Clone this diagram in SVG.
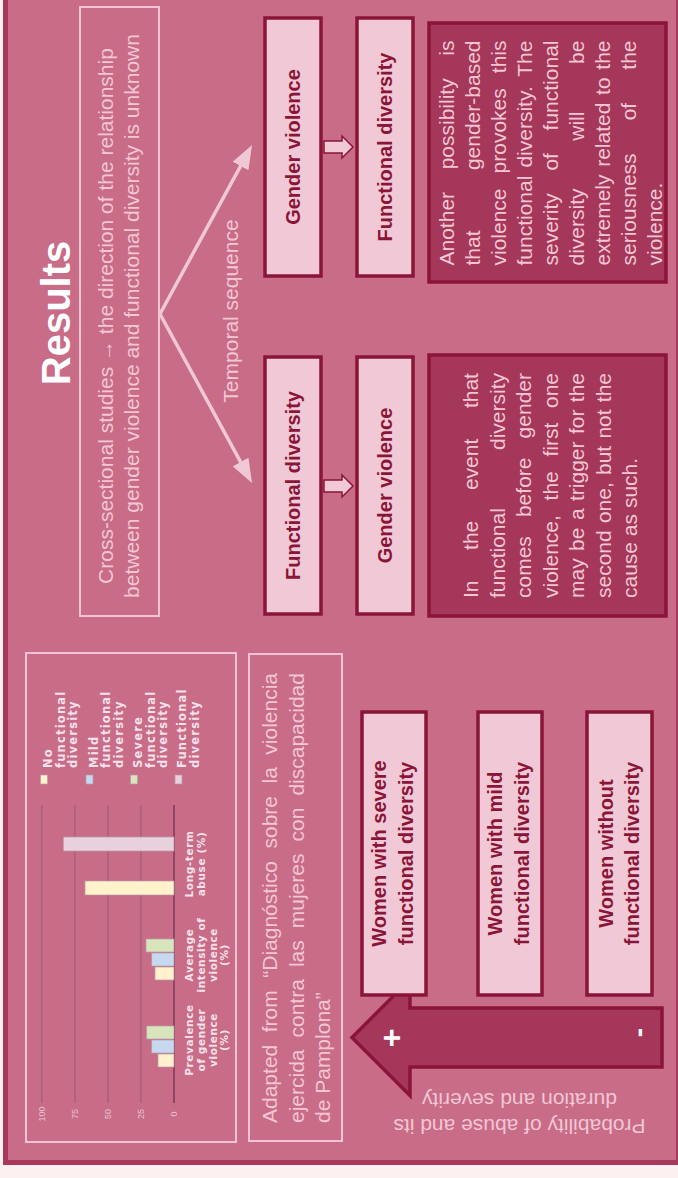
<svg xmlns="http://www.w3.org/2000/svg" width="678" height="1178" viewBox="0 0 678 1178">
<style>
text{font-family:"Liberation Sans",Arial,sans-serif}
.lt{fill:#F2C6D3;font-size:21px}
.nb{fill:#F1C9D6;stroke:#8B1538;stroke-width:3.5}
.nt{fill:#8B1538;font-size:20px;font-weight:bold;text-anchor:middle}
.tb{fill:#A5375A;stroke:#8B1538;stroke-width:3.5}
.ob{fill:none;stroke:#F0C4D2;stroke-width:2}
.ha{fill:#F1C9D6;stroke:#8B1538;stroke-width:1.5}
.va{fill:none;stroke:#F0C8D5;stroke-width:3.5}
.grid{stroke:#A15F7A;stroke-width:1.3}
.ax{fill:#E6C6D2;font-size:9px;text-anchor:middle}
.cl{font-family:"DejaVu Sans",Verdana,sans-serif;fill:#F6E2EA;font-size:10.5px;font-weight:bold;letter-spacing:0.6px;text-anchor:middle}
.lg{font-family:"DejaVu Sans",Verdana,sans-serif;fill:#F6E2EA;font-size:11.5px;font-weight:bold;letter-spacing:1.2px}
.bar{stroke:#B89AA6;stroke-width:0.7}
</style>
<defs>
<marker id="ah" markerUnits="userSpaceOnUse" markerWidth="26" markerHeight="20" refX="6" refY="9" orient="auto" viewBox="0 0 26 20">
<path d="M0,0 L24,9 L0,18 Z" fill="#F0C8D5"/>
</marker>
</defs>
<rect x="0" y="0" width="678" height="1178" fill="#FDF0F0"/>
<rect x="3" y="0" width="675" height="1165" fill="#A8385C"/>
<rect x="8" y="0" width="668" height="1160" fill="#C86C88"/>

<g id="title">
<text transform="translate(70 313) rotate(-90)" text-anchor="middle" font-size="40" font-weight="bold" fill="#FFFFFF">Results</text>
</g>

<g id="cross-sectional">
<rect class="ob" x="80" y="7" width="79" height="609"/>
<text class="lt" transform="translate(112.5 316) rotate(-90)" text-anchor="middle">Cross-sectional studies → the direction of the relationship</text>
<text class="lt" transform="translate(138.5 316) rotate(-90)" text-anchor="middle">between gender violence and functional diversity is unknown</text>
</g>

<g id="connectors">
<path class="va" d="M160,314 L243.4,160.8" marker-end="url(#ah)"/>
<path class="va" d="M160,314 L243.4,467.2" marker-end="url(#ah)"/>
<polygon class="ha" points="324,480 342,480 342,475 353,486 342,497 342,492 324,492"/>
<polygon class="ha" points="324,141 342,141 342,136 353,147 342,158 342,153 324,153"/>
<polygon fill="#A5375A" stroke="#8B1538" stroke-width="3.5" points="352,1037.5 410,979.5 410,1008 662,1008 662,1067 410,1067 410,1095.5"/>
</g>

<g id="temporal-label">
<text class="lt" transform="translate(238 311) rotate(-90)" text-anchor="middle">Temporal sequence</text>
</g>

<g id="fd-first">
<rect class="nb" x="265" y="357" width="56" height="257"/>
<text class="nt" transform="translate(300 485.5) rotate(-90)">Functional diversity</text>
</g>
<g id="gv-second">
<rect class="nb" x="357" y="357" width="56" height="257"/>
<text class="nt" transform="translate(392 485.5) rotate(-90)">Gender violence</text>
</g>
<g id="gv-first">
<rect class="nb" x="265" y="18" width="56" height="258"/>
<text class="nt" transform="translate(300 147) rotate(-90)">Gender violence</text>
</g>
<g id="fd-second">
<rect class="nb" x="357" y="18" width="56" height="258"/>
<text class="nt" transform="translate(392 147) rotate(-90)">Functional diversity</text>
</g>

<g id="text-lower">
<rect class="tb" x="429" y="355" width="237" height="261"/>
<text class="lt" transform="translate(478 598) rotate(-90)"><tspan x="0">In</tspan><tspan x="48.1">the</tspan><tspan x="107.9">event</tspan><tspan x="189.9">that</tspan></text>
<text class="lt" transform="translate(504.5 598) rotate(-90)"><tspan x="0">functional</tspan><tspan x="148">diversity</tspan></text>
<text class="lt" transform="translate(531 598) rotate(-90)"><tspan x="0">comes</tspan><tspan x="80.95">before</tspan><tspan x="159.6">gender</tspan></text>
<text class="lt" transform="translate(557.5 598) rotate(-90)"><tspan x="0">violence,</tspan><tspan x="97.6">the</tspan><tspan x="141.5">first</tspan><tspan x="190">one</tspan></text>
<text class="lt" transform="translate(584 598) rotate(-90)"><tspan x="0">may</tspan><tspan x="47.1">be</tspan><tspan x="77.9">a</tspan><tspan x="97">trigger</tspan><tspan x="163.9">for</tspan><tspan x="195.8">the</tspan></text>
<text class="lt" transform="translate(610.5 598) rotate(-90)"><tspan x="0">second</tspan><tspan x="74.9">one,</tspan><tspan x="123">but</tspan><tspan x="159.4">not</tspan><tspan x="195.8">the</tspan></text>
<text class="lt" transform="translate(637 598) rotate(-90)">cause as such.</text>
</g>

<g id="text-upper">
<rect class="tb" x="429" y="23" width="237" height="259"/>
<text class="lt" transform="translate(453.5 265.5) rotate(-90)"><tspan x="0">Another</tspan><tspan x="96.15">possibility</tspan><tspan x="209.8">is</tspan></text>
<text class="lt" transform="translate(479.5 265.5) rotate(-90)"><tspan x="0">that</tspan><tspan x="95.4">gender-based</tspan></text>
<text class="lt" transform="translate(505.5 265.5) rotate(-90)"><tspan x="0">violence</tspan><tspan x="92.1">provokes</tspan><tspan x="192.3">this</tspan></text>
<text class="lt" transform="translate(531.5 265.5) rotate(-90)"><tspan x="0">functional</tspan><tspan x="97.95">diversity.</tspan><tspan x="188.8">The</tspan></text>
<text class="lt" transform="translate(557.5 265.5) rotate(-90)"><tspan x="0">severity</tspan><tspan x="94.95">of</tspan><tspan x="135.1">functional</tspan></text>
<text class="lt" transform="translate(583.5 265.5) rotate(-90)"><tspan x="0">diversity</tspan><tspan x="124.75">will</tspan><tspan x="201.6">be</tspan></text>
<text class="lt" transform="translate(609.5 265.5) rotate(-90)"><tspan x="0">extremely</tspan><tspan x="98.7">related</tspan><tspan x="170.6">to</tspan><tspan x="195.8">the</tspan></text>
<text class="lt" transform="translate(635.5 265.5) rotate(-90)"><tspan x="0">seriousness</tspan><tspan x="145.15">of</tspan><tspan x="195.8">the</tspan></text>
<text class="lt" transform="translate(661.5 265.5) rotate(-90)">violence.</text>
</g>

<g id="chart">
<rect class="ob" x="26" y="653" width="210" height="489"/>
<line class="grid" x1="41.8" y1="805" x2="41.8" y2="1103"/>
<line class="grid" x1="74.9" y1="805" x2="74.9" y2="1103"/>
<line class="grid" x1="108" y1="805" x2="108" y2="1103"/>
<line class="grid" x1="141" y1="805" x2="141" y2="1103"/>
<line stroke="#7E3A57" stroke-width="1.5" x1="174" y1="805" x2="174" y2="1103"/>
<text class="ax" transform="translate(45 1114) rotate(-90)">100</text>
<text class="ax" transform="translate(78 1114) rotate(-90)">75</text>
<text class="ax" transform="translate(111 1114) rotate(-90)">50</text>
<text class="ax" transform="translate(144 1114) rotate(-90)">25</text>
<text class="ax" transform="translate(177 1114) rotate(-90)">0</text>
<rect class="bar" x="158" y="1054" width="16" height="13" fill="#FFF2CC"/>
<rect class="bar" x="151.7" y="1040" width="22.3" height="13" fill="#C6D9F1"/>
<rect class="bar" x="146.7" y="1026" width="27.3" height="13" fill="#D8E4BC"/>
<rect class="bar" x="155" y="967" width="19" height="13" fill="#FFF2CC"/>
<rect class="bar" x="151.7" y="953" width="22.3" height="13" fill="#C6D9F1"/>
<rect class="bar" x="146" y="939" width="28" height="13" fill="#D8E4BC"/>
<rect class="bar" x="85" y="881" width="89" height="14" fill="#FFF2CC"/>
<rect class="bar" x="63.3" y="837" width="110.7" height="14" fill="#E8D0DC"/>
<text class="cl" transform="translate(193 1040) rotate(-90)">Prevalence</text>
<text class="cl" transform="translate(205 1040) rotate(-90)">of gender</text>
<text class="cl" transform="translate(216.5 1040) rotate(-90)">violence</text>
<text class="cl" transform="translate(228 1040) rotate(-90)">(%)</text>
<text class="cl" transform="translate(193 955) rotate(-90)">Average</text>
<text class="cl" transform="translate(205 955) rotate(-90)">intensity of</text>
<text class="cl" transform="translate(216.5 955) rotate(-90)">violence</text>
<text class="cl" transform="translate(228 955) rotate(-90)">(%)</text>
<text class="cl" transform="translate(193 864) rotate(-90)">Long-term</text>
<text class="cl" transform="translate(205 864) rotate(-90)">abuse (%)</text>
<rect class="bar" x="40.5" y="775" width="7" height="9" fill="#FFF2CC"/>
<rect class="bar" x="86" y="775" width="7" height="9" fill="#C6D9F1"/>
<rect class="bar" x="130.5" y="775" width="7" height="9" fill="#D8E4BC"/>
<rect class="bar" x="175" y="775" width="7" height="9" fill="#E8D0DC"/>
<text class="lg" transform="translate(52 768) rotate(-90)">No</text>
<text class="lg" transform="translate(64.5 768) rotate(-90)">functional</text>
<text class="lg" transform="translate(77 768) rotate(-90)">diversity</text>
<text class="lg" transform="translate(97.5 768) rotate(-90)">Mild</text>
<text class="lg" transform="translate(110 768) rotate(-90)">functional</text>
<text class="lg" transform="translate(122.5 768) rotate(-90)">diversity</text>
<text class="lg" transform="translate(142 768) rotate(-90)">Severe</text>
<text class="lg" transform="translate(154.5 768) rotate(-90)">functional</text>
<text class="lg" transform="translate(167 768) rotate(-90)">diversity</text>
<text class="lg" transform="translate(186 768) rotate(-90)">Functional</text>
<text class="lg" transform="translate(198.5 768) rotate(-90)">diversity</text>
</g>

<g id="source">
<rect class="ob" x="249" y="654" width="93" height="487"/>
<text class="lt" transform="translate(277 1123) rotate(-90)"><tspan x="0">Adapted</tspan><tspan x="90.72">from</tspan><tspan x="145.24">“Diagnóstico</tspan><tspan x="274.46">sobre</tspan><tspan x="339.48">la</tspan><tspan x="368.3">violencia</tspan></text>
<text class="lt" transform="translate(303.5 1123) rotate(-90)"><tspan x="0">ejercida</tspan><tspan x="85.52">contra</tspan><tspan x="155.94">las</tspan><tspan x="194.76">mujeres</tspan><tspan x="281.48">con</tspan><tspan x="327.4">discapacidad</tspan></text>
<text class="lt" transform="translate(330 1123) rotate(-90)">de Pamplona”</text>
</g>

<g id="scale-signs">
<text transform="translate(402 1038) rotate(-90)" text-anchor="middle" font-size="32" font-weight="bold" fill="#FFFFFF">+</text>
<text transform="translate(648 1032.5) rotate(-90)" text-anchor="middle" font-size="28" font-weight="bold" fill="#FFFFFF">-</text>
</g>

<g id="women-severe">
<rect class="nb" x="362" y="712" width="64" height="283"/>
<text class="nt" transform="translate(386 853.5) rotate(-90)">Women with severe</text>
<text class="nt" transform="translate(412.5 853.5) rotate(-90)">functional diversity</text>
</g>
<g id="women-mild">
<rect class="nb" x="478" y="712" width="64" height="283"/>
<text class="nt" transform="translate(502 853.5) rotate(-90)">Women with mild</text>
<text class="nt" transform="translate(528.5 853.5) rotate(-90)">functional diversity</text>
</g>
<g id="women-without">
<rect class="nb" x="587" y="712" width="65" height="283"/>
<text class="nt" transform="translate(612.5 853.5) rotate(-90)">Women without</text>
<text class="nt" transform="translate(639 853.5) rotate(-90)">functional diversity</text>
</g>

<g id="scale-label">
<text class="lt" transform="translate(519.5 1119) rotate(180)" text-anchor="middle">Probability of abuse and its</text>
<text class="lt" transform="translate(519.5 1093) rotate(180)" text-anchor="middle">duration and severity</text>
</g>
</svg>
